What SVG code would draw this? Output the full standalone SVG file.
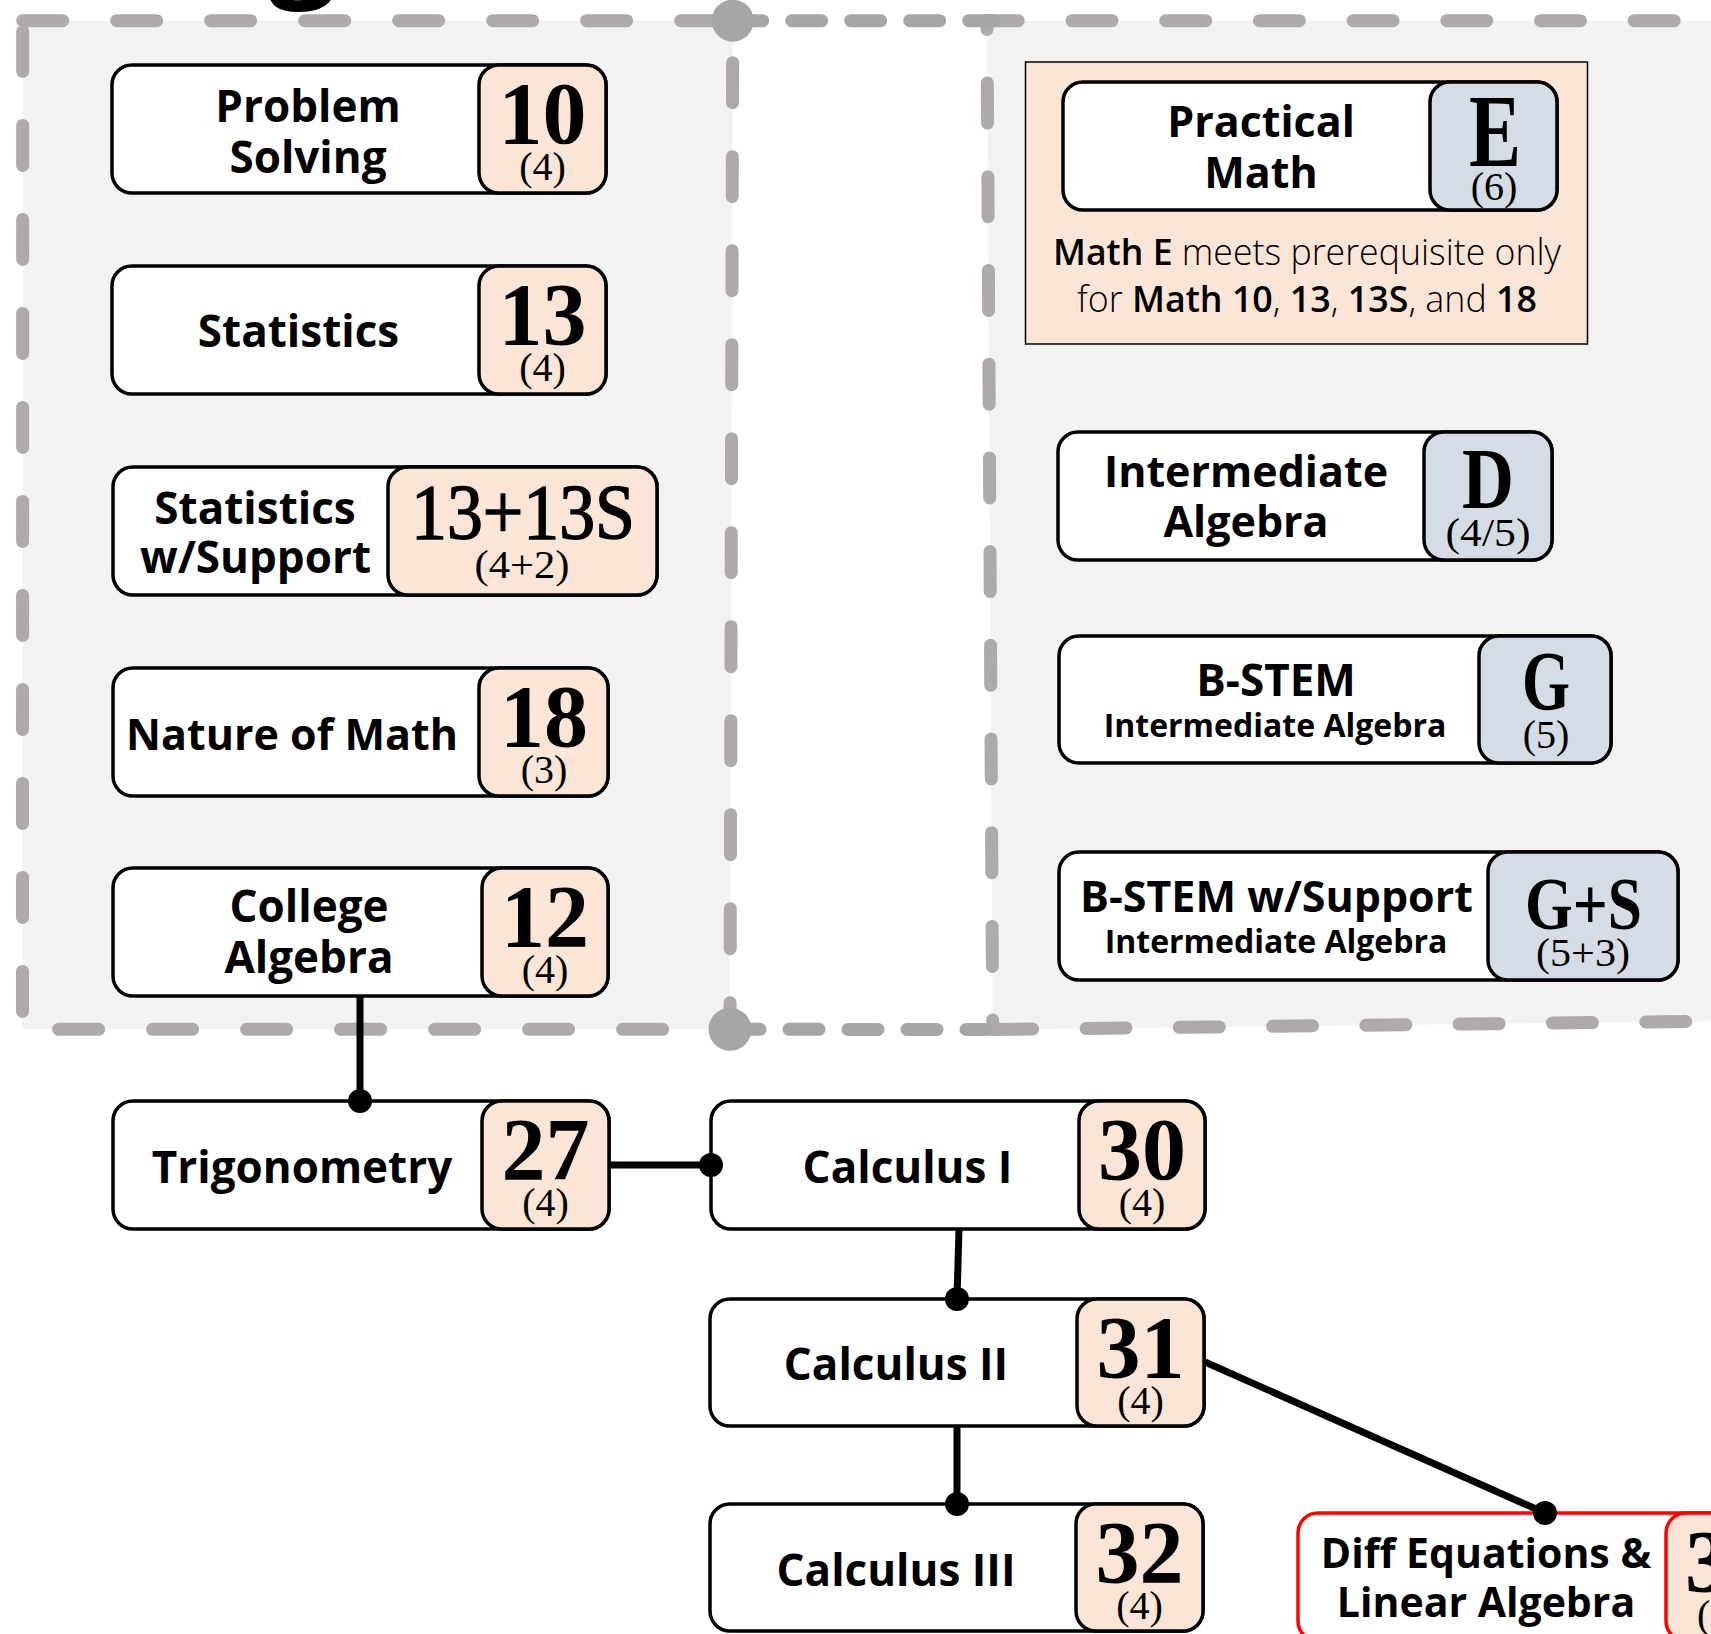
<svg xmlns="http://www.w3.org/2000/svg" width="1711" height="1634" viewBox="0 0 1711 1634">
<defs>
<style>
.bg{fill:#fff}
.grp{fill:#F2F2F2;stroke:none}
.gdash{fill:none;stroke:#AEAAAA;stroke-width:13;stroke-linecap:round;stroke-dasharray:40 54}
.cdash{fill:none;stroke:#A6A6A6;stroke-width:13;stroke-linecap:round;stroke-dasharray:30 29}
.cdot{fill:#A6A6A6}
.box{fill:#fff;stroke:#000;stroke-width:3.5}
.boxr{fill:#fff;stroke:#FF0000;stroke-width:3.5}
.bp{fill:#FBE5D6;stroke:#000;stroke-width:3.5}
.bpr{fill:#FBE5D6;stroke:#FF0000;stroke-width:3.5}
.bb{fill:#D6DCE5;stroke:#000;stroke-width:3.5}
.lbl{font-family:"Open Sans","DejaVu Sans",sans-serif;font-weight:700;font-size:44px;text-anchor:middle;fill:#000}
.sub{font-family:"Open Sans","DejaVu Sans",sans-serif;font-weight:700;font-size:32px;text-anchor:middle;fill:#000}
.num{font-family:"Liberation Serif","Times New Roman",serif;font-weight:700;font-size:88px;text-anchor:middle;fill:#000}
.cr{font-family:"Liberation Serif","Times New Roman",serif;font-size:40px;text-anchor:middle;fill:#000}
.note{font-family:"Open Sans","Liberation Sans",sans-serif;font-size:36px;text-anchor:middle;fill:#000}
.lt{font-weight:300}
.md{font-weight:600}
.edge{fill:none;stroke:#000;stroke-width:7}
.dot{fill:#000}
</style>
</defs>
<rect class="bg" x="0" y="0" width="1711" height="1634"/>
<text x="303" y="-17" style="font-family:'Open Sans','DejaVu Sans',sans-serif;font-weight:700;font-size:120px;text-anchor:middle;fill:#000">g</text>

<g id="group-left">
<path class="grp" d="M22.7 20.7 H732.7 L730 1029.3 H22.5 Z"/>
</g>
<g id="group-right">
<path class="grp" d="M987 20.7 H1730 V1021 L992.7 1029.5 Z"/>
</g>
<g id="group-borders">
<path class="gdash" d="M22.7 20.7 H732.7 L730 1029.3 H22.5 Z"/>
<line class="gdash" x1="992.7" y1="1029.5" x2="1730" y2="1021" style="stroke-dasharray:40 53.3"/>
<line class="gdash" x1="1720" y1="20.7" x2="987" y2="20.7" style="stroke-dasharray:40 53.7;stroke-dashoffset:47.9"/>
<line class="gdash" x1="987" y1="20.7" x2="992.7" y2="1029.5" style="stroke-dasharray:40 53.7;stroke-dashoffset:31.3"/>
</g>
<g id="group-links">
<line class="cdash" x1="732.7" y1="20.7" x2="994" y2="20.7"/>
<circle class="cdot" cx="732.7" cy="20.7" r="21"/>
<line class="cdash" x1="730" y1="1029.3" x2="987" y2="1029.5"/>
<circle class="cdot" cx="730" cy="1029.3" r="21.5"/>
</g>

<g id="note-e">
<rect x="1025.5" y="62" width="562" height="282" fill="#FBE5D6" stroke="#000" stroke-width="1.5"/>
<text class="note" x="1307" y="265" textLength="508" lengthAdjust="spacingAndGlyphs"><tspan class="md">Math E</tspan><tspan class="lt"> meets prerequisite only</tspan></text>
<text class="note" x="1307" y="312" textLength="460" lengthAdjust="spacingAndGlyphs"><tspan class="lt">for </tspan><tspan class="md">Math 10</tspan><tspan class="lt">, </tspan><tspan class="md">13</tspan><tspan class="lt">, </tspan><tspan class="md">13S</tspan><tspan class="lt">, and </tspan><tspan class="md">18</tspan></text>
</g>

<g id="connectors">
<line class="edge" x1="360" y1="996" x2="360" y2="1101"/>
<line class="edge" x1="609" y1="1165" x2="711" y2="1165"/>
<line class="edge" x1="959" y1="1229" x2="957" y2="1299"/>
<line class="edge" x1="957" y1="1426" x2="957" y2="1504"/>
<line class="edge" x1="1205" y1="1362" x2="1545" y2="1513"/>
</g>

<g id="n10">
<rect class="box" x="112" y="65" width="494" height="128" rx="20"/>
<rect class="bp" x="479" y="65" width="127" height="128" rx="20"/>
<text class="lbl" x="308" y="122">Problem</text>
<text class="lbl" x="308" y="173">Solving</text>
<text class="num" x="542.5" y="143">10</text>
<text class="cr" x="542.5" y="180">(4)</text>
</g>
<g id="n13">
<rect class="box" x="112" y="266" width="494" height="128" rx="20"/>
<rect class="bp" x="479" y="266" width="127" height="128" rx="20"/>
<text class="lbl" x="298.5" y="347">Statistics</text>
<text class="num" x="542.5" y="344">13</text>
<text class="cr" x="542.5" y="381">(4)</text>
</g>
<g id="n13s">
<rect class="box" x="113" y="467" width="544" height="128" rx="20"/>
<rect class="bp" x="388" y="467" width="269" height="128" rx="20"/>
<text class="lbl" x="255" y="524">Statistics</text>
<text class="lbl" x="255.5" y="573">w/Support</text>
<text class="num" x="523" y="538" style="font-size:78px;font-weight:400;stroke:#000;stroke-width:1.5" textLength="224" lengthAdjust="spacingAndGlyphs">13+13S</text>
<text class="cr" x="522" y="578" textLength="95" lengthAdjust="spacingAndGlyphs">(4+2)</text>
</g>
<g id="n18">
<rect class="box" x="113" y="668" width="495" height="128" rx="20"/>
<rect class="bp" x="479" y="668" width="129" height="128" rx="20"/>
<text class="lbl" x="292" y="750" style="font-size:43px">Nature of Math</text>
<text class="num" x="544" y="746">18</text>
<text class="cr" x="544" y="783">(3)</text>
</g>
<g id="n12">
<rect class="box" x="113" y="868" width="495" height="128" rx="20"/>
<rect class="bp" x="482" y="868" width="126" height="128" rx="20"/>
<text class="lbl" x="309" y="922">College</text>
<text class="lbl" x="309" y="973">Algebra</text>
<text class="num" x="545" y="946">12</text>
<text class="cr" x="545" y="983">(4)</text>
</g>
<g id="n27">
<rect class="box" x="113" y="1101" width="496" height="128" rx="20"/>
<rect class="bp" x="482" y="1101" width="127" height="128" rx="20"/>
<text class="lbl" x="302" y="1183">Trigonometry</text>
<text class="num" x="545.5" y="1179">27</text>
<text class="cr" x="545.5" y="1216">(4)</text>
</g>
<g id="n30">
<rect class="box" x="711" y="1101" width="494" height="128" rx="20"/>
<rect class="bp" x="1079" y="1101" width="126" height="128" rx="20"/>
<text class="lbl" x="907.5" y="1183">Calculus I</text>
<text class="num" x="1142" y="1179">30</text>
<text class="cr" x="1142" y="1216">(4)</text>
</g>
<g id="n31">
<rect class="box" x="710" y="1299" width="494" height="127" rx="20"/>
<rect class="bp" x="1077" y="1299" width="127" height="127" rx="20"/>
<text class="lbl" x="896" y="1380">Calculus II</text>
<text class="num" x="1140.5" y="1377">31</text>
<text class="cr" x="1140.5" y="1414">(4)</text>
</g>
<g id="n32">
<rect class="box" x="710" y="1504" width="493" height="127" rx="20"/>
<rect class="bp" x="1076" y="1504" width="127" height="127" rx="20"/>
<text class="lbl" x="896" y="1585.5">Calculus III</text>
<text class="num" x="1139.5" y="1582">32</text>
<text class="cr" x="1139.5" y="1619">(4)</text>
</g>
<g id="n3x">
<rect class="boxr" x="1298" y="1513" width="497" height="128" rx="20"/>
<rect class="bpr" x="1666" y="1513" width="129" height="128" rx="20"/>
<text class="lbl" x="1486" y="1568" style="font-size:41px">Diff Equations &amp;</text>
<text class="lbl" x="1486" y="1617" style="font-size:41px">Linear Algebra</text>
<text class="num" x="1685" y="1591" style="text-anchor:start">3</text>
<text class="cr" x="1697" y="1628" style="text-anchor:start">(</text>
</g>

<g id="nE">
<rect class="box" x="1063" y="82" width="494" height="128" rx="20"/>
<rect class="bb" x="1430" y="82" width="127" height="128" rx="20"/>
<text class="lbl" x="1261" y="137" style="font-size:43px">Practical</text>
<text class="lbl" x="1261" y="188" style="font-size:43px">Math</text>
<text class="num" x="1495" y="166" style="font-size:104px" textLength="52" lengthAdjust="spacingAndGlyphs">E</text>
<text class="cr" x="1494" y="200">(6)</text>
</g>
<g id="nD">
<rect class="box" x="1058" y="432" width="494" height="128" rx="20"/>
<rect class="bb" x="1424" y="432" width="128" height="128" rx="20"/>
<text class="lbl" x="1246" y="487" style="font-size:43px">Intermediate</text>
<text class="lbl" x="1246" y="537" style="font-size:43px">Algebra</text>
<text class="num" x="1488" y="508" style="font-size:86px" textLength="52" lengthAdjust="spacingAndGlyphs">D</text>
<text class="cr" x="1488" y="546" textLength="85" lengthAdjust="spacingAndGlyphs">(4/5)</text>
</g>
<g id="nG">
<rect class="box" x="1059" y="636" width="552" height="127" rx="20"/>
<rect class="bb" x="1479" y="636" width="132" height="127" rx="20"/>
<text class="lbl" x="1276" y="696">B-STEM</text>
<text class="sub" x="1275" y="737">Intermediate Algebra</text>
<text class="num" x="1546" y="710" style="font-size:84px" textLength="48" lengthAdjust="spacingAndGlyphs">G</text>
<text class="cr" x="1546" y="748">(5)</text>
</g>
<g id="nGS">
<rect class="box" x="1059" y="852" width="619" height="128" rx="20"/>
<rect class="bb" x="1488" y="852" width="190" height="128" rx="20"/>
<text class="lbl" x="1276.5" y="912" style="font-size:43px">B-STEM w/Support</text>
<text class="sub" x="1276" y="953">Intermediate Algebra</text>
<text class="num" x="1583.5" y="929" style="font-size:74px" textLength="117" lengthAdjust="spacingAndGlyphs">G+S</text>
<text class="cr" x="1583" y="966" textLength="94" lengthAdjust="spacingAndGlyphs">(5+3)</text>
</g>

<g id="connector-dots">
<circle class="dot" cx="360" cy="1101" r="12"/>
<circle class="dot" cx="711" cy="1165" r="12"/>
<circle class="dot" cx="957" cy="1299" r="12"/>
<circle class="dot" cx="957" cy="1504" r="12"/>
<circle class="dot" cx="1545" cy="1513" r="12"/>
</g>
</svg>
